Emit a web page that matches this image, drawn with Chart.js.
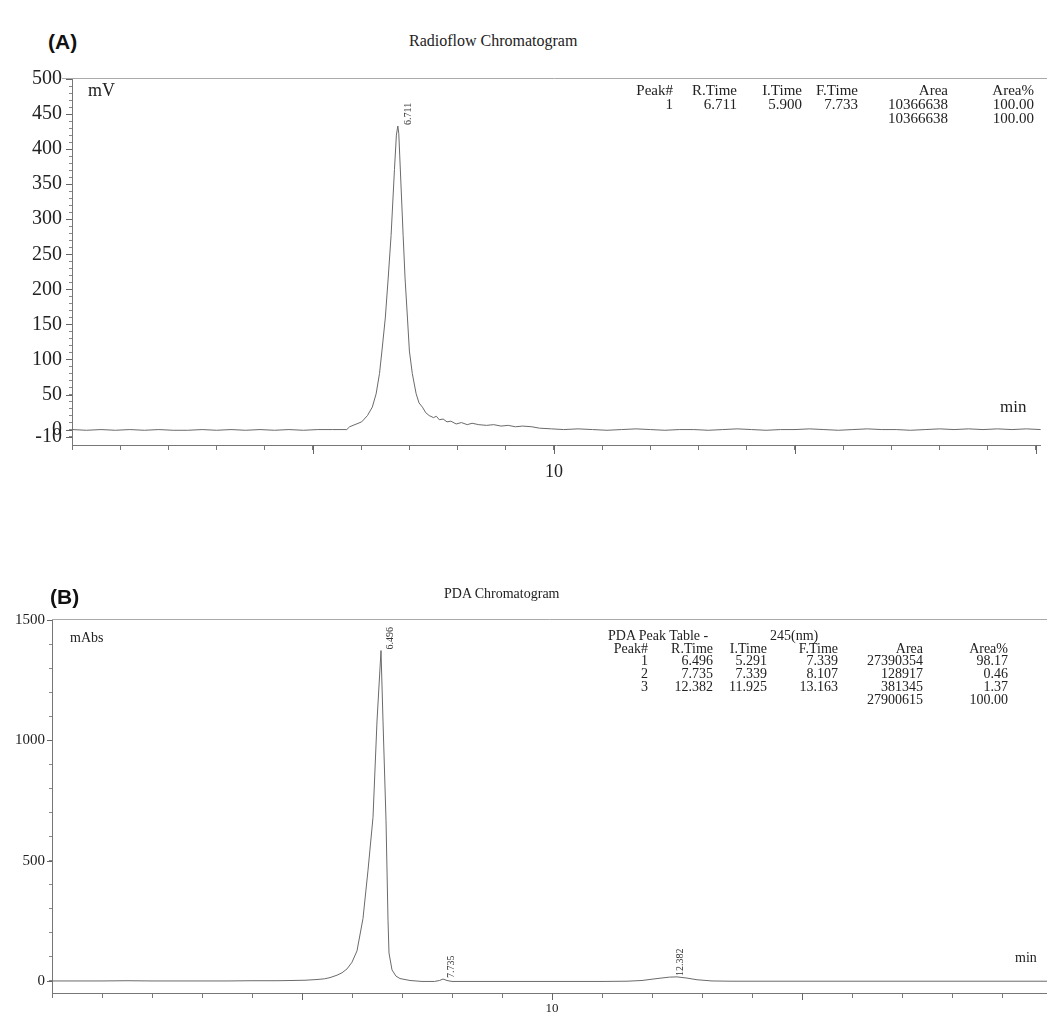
<!DOCTYPE html>
<html>
<head>
<meta charset="utf-8">
<script src="https://cdn.jsdelivr.net/npm/chart.js@4.4.1/dist/chart.umd.min.js"></script>
<style>
  body { margin:0; background:#fff; width:1047px; height:1017px; position:relative; overflow:hidden;
         font-family:"Liberation Serif", "Times New Roman", serif; color:#222; }
  canvas { position:absolute; left:0; }
  .t { position:absolute; white-space:nowrap; }
  .lab { font-family:"Liberation Sans", Arial, sans-serif; font-weight:bold; font-size:21px; color:#111; }
</style>
</head>
<body>
<canvas id="chromA" width="1047" height="425" style="top:60px"></canvas>
<canvas id="chromB" width="1047" height="417" style="top:600px"></canvas>

<div class="t lab" style="left:48px;top:30px">(A)</div>
<div class="t" style="left:409px;top:32px;font-size:16px">Radioflow Chromatogram</div>
<div class="t" style="left:88px;top:80px;font-size:18px">mV</div>
<div class="t" style="left:1000px;top:397px;font-size:17px">min</div>

<div class="t lab" style="left:50px;top:585px">(B)</div>
<div class="t" style="left:444px;top:586px;font-size:14px">PDA Chromatogram</div>
<div class="t" style="left:70px;top:630px;font-size:14px">mAbs</div>
<div class="t" style="left:1015px;top:950px;font-size:14px">min</div>

<div id="tables"></div>

<script>
// --- Radioflow (A) : temps (min) / signal (mV)
const timeA = [0, 0.3, 0.6, 0.9, 1.2, 1.5, 1.8, 2.1, 2.4, 2.7, 3.0, 3.3, 3.6, 3.9, 4.2, 4.5, 4.8, 5.1, 5.4, 5.7,
  5.76, 6.01, 6.13, 6.23, 6.31, 6.38, 6.43, 6.50, 6.56, 6.62, 6.69, 6.73, 6.76, 6.78, 6.80, 6.87, 6.91, 6.96, 7.00, 7.06, 7.14,
  7.20, 7.27, 7.34, 7.41, 7.50, 7.56, 7.62, 7.70, 7.78, 7.86, 7.97, 8.08, 8.2, 8.3, 8.44, 8.6, 8.75, 8.9, 9.05,
  9.2, 9.35, 9.54, 9.7, 9.95, 10.2, 10.5, 10.8, 11.1, 11.4, 11.7, 12.0, 12.3, 12.6, 12.9, 13.2, 13.5, 13.8, 14.1,
  14.4, 14.7, 15.0, 15.3, 15.6, 15.9, 16.2, 16.5, 16.8, 17.1, 17.4, 17.7, 18.0, 18.3, 18.6, 18.9, 19.2, 19.5, 19.8, 20.1];
const signalA = [0, -1, 0, -1, 0, -1, 0, -1, -1, 0, -1, 0, -1, 0, -1, 0, -1, 0, 0, 0,
  4, 11, 20, 32, 51, 80, 112, 159, 216, 277, 371, 420, 433, 422, 390, 277, 216, 159, 112, 80, 51,
  38, 32, 24, 20, 17, 19, 14, 15, 11, 12, 8, 10, 7, 9, 7, 6, 7, 5, 6,
  4, 5, 4, 2, 1, 0, 1, 0, -1, 0, 1, 0, -1, 0, 0, -1, 0, 1, 0,
  -1, 0, 0, 1, 0, -1, 0, 1, 0, 0, -1, 0, 1, 0, 1, 0, 1, 0, 1, 0];

// --- PDA (B) : temps (min) / absorbance (mAbs)
const timeB = [0, 0.5, 1, 1.5, 2, 2.5, 3, 3.5, 4, 4.5, 4.8, 5.06, 5.3, 5.45, 5.56, 5.7, 5.8, 5.9, 6.0, 6.1,
  6.22, 6.32, 6.42, 6.50, 6.58, 6.62, 6.68, 6.72, 6.74, 6.80, 6.88, 6.96, 7.16, 7.4, 7.65, 7.75, 7.82, 7.9,
  8.0, 8.5, 9, 9.5, 10, 10.5, 11, 11.5, 11.8, 12.1, 12.35, 12.5, 12.7, 12.9, 13.2, 13.6, 14, 15, 16, 17, 18, 19, 19.9];
const signalB = [0, 0, 0, 1, 0, 0, 0, 0, 1, 1, 2, 3, 6, 9, 14, 24, 34, 50, 78, 125,
  260, 460, 680, 1080, 1373, 1080, 668, 253, 116, 46, 20, 10, 2, -2, -2, 2, 8, 2,
  -2, -2, -2, -2, -2, -2, -2, -1, 2, 10, 16, 17, 12, 5, 0, -1, -1, -1, -1, -1, -1, -1, -1];

// étiquettes des pics
const peakTextA = ['6.711'];
const peakTimeA = [6.76];
const peakValA = [433];
const peakTextB = ['6.496', '7.735', '12.382'];
const peakTimeB = [6.58, 7.82, 12.5];
const peakValB = [1373, 8, 17];

// graduations
const yLabelsA = [-10, 0, 50, 100, 150, 200, 250, 300, 350, 400, 450, 500];
const yLabelsB = [0, 500, 1000, 1500];
const xLabels = [10];

// tableaux des pics
const headA = ['Peak#', 'R.Time', 'I.Time', 'F.Time', 'Area', 'Area%'];
const rowsA = [
  ['1', '6.711', '5.900', '7.733', '10366638', '100.00'],
  ['', '', '', '', '10366638', '100.00']
];
const headB = ['Peak#', 'R.Time', 'I.Time', 'F.Time', 'Area', 'Area%'];
const rowsB = [
  ['1', '6.496', '5.291', '7.339', '27390354', '98.17'],
  ['2', '7.735', '7.339', '8.107', '128917', '0.46'],
  ['3', '12.382', '11.925', '13.163', '381345', '1.37'],
  ['', '', '', '', '27900615', '100.00']
];

function putTable(head, rows, colRight, rowY, size) {
  var box = document.getElementById('tables');
  [head].concat(rows).forEach(function(r, i) {
    r.forEach(function(txt, j) {
      if (!txt) return;
      var d = document.createElement('div');
      d.className = 't';
      d.textContent = txt;
      d.style.fontSize = size + 'px';
      d.style.lineHeight = size + 'px';
      d.style.right = (1047 - colRight[j]) + 'px';
      d.style.top = (rowY[i] - size / 2) + 'px';
      box.appendChild(d);
    });
  });
}
putTable(headA, rowsA, [673, 737, 802, 858, 948, 1034], [90, 104, 118], 15);
putTable(headB, rowsB, [648, 713, 767, 838, 923, 1008], [649, 661, 674, 687, 700], 14);

var pda = document.createElement('div');
pda.className = 't'; pda.style.cssText = 'left:608px;top:628px;font-size:14px';
pda.textContent = 'PDA Peak Table -';
document.getElementById('tables').appendChild(pda);
var nm = document.createElement('div');
nm.className = 't'; nm.style.cssText = 'left:770px;top:628px;font-size:14px';
nm.textContent = '245(nm)';
document.getElementById('tables').appendChild(nm);

// plugin : cadre du haut, grandes graduations, étiquettes des pics
const decoPlugin = {
  id: 'deco',
  afterDraw(chart, args, opts) {
    const ctx = chart.ctx, xs = chart.scales.x, ys = chart.scales.y, area = chart.chartArea;
    ctx.save();
    ctx.lineWidth = 1;
    ctx.strokeStyle = '#aaa';
    ctx.beginPath();
    ctx.moveTo(opts.topFrom, Math.round(area.top) - 0.5);
    ctx.lineTo(chart.width, Math.round(area.top) - 0.5);
    ctx.stroke();
    ctx.strokeStyle = '#666';
    ctx.beginPath();
    opts.majorX.forEach(function(v) {
      var px = Math.round(xs.getPixelForValue(v)) + 0.5;
      ctx.moveTo(px, area.bottom); ctx.lineTo(px, area.bottom + opts.majorLen);
    });
    opts.majorY.forEach(function(v) {
      var py = Math.round(ys.getPixelForValue(v)) + 0.5;
      ctx.moveTo(area.left - opts.majorLenY, py); ctx.lineTo(area.left, py);
    });
    ctx.stroke();
    ctx.fillStyle = '#333';
    ctx.font = opts.peakFont + 'px "Liberation Serif"';
    ctx.textAlign = 'left';
    ctx.textBaseline = 'middle';
    opts.text.forEach(function(txt, i) {
      var px = xs.getPixelForValue(opts.xv[i]) + opts.dx[i];
      var py = ys.getPixelForValue(opts.yv[i]) - 1;
      ctx.save(); ctx.translate(px, py); ctx.rotate(-Math.PI / 2); ctx.fillText(txt, 0, 0); ctx.restore();
    });
    ctx.restore();
  }
};

function makeChart(id, times, values, s) {
  var pts = times.map(function(t, i) { return {x: t, y: values[i]}; });
  var ctx = document.getElementById(id).getContext('2d');
  return new Chart(ctx, {
    type: 'line',
    data: { datasets: [{ data: pts, borderColor: '#6a6a6a', borderWidth: 1, pointRadius: 0, tension: 0, fill: false }] },
    options: {
      responsive: false,
      animation: false,
      layout: { padding: { top: s.padTop, right: s.padRight, left: 0, bottom: 0 } },
      plugins: { legend: { display: false }, tooltip: { enabled: false }, deco: s.deco },
      scales: {
        x: {
          type: 'linear', min: 0, max: s.xMax,
          afterBuildTicks: function(sc) { var tk = []; for (var i = 0; i <= Math.floor(s.xMax); i++) tk.push({value: i}); sc.ticks = tk; },
          afterFit: function(sc) { sc.height = s.xH; },
          grid: { drawOnChartArea: false, tickLength: 5, tickColor: '#777' },
          border: { display: true, color: '#777' },
          ticks: { autoSkip: false, maxRotation: 0, padding: s.xPad, color: '#222',
                   font: { family: 'Liberation Serif', size: s.xFont },
                   callback: function(v) { return xLabels.indexOf(v) >= 0 ? String(v) : ''; } }
        },
        y: {
          min: s.yMin, max: s.yMax,
          afterBuildTicks: function(sc) { sc.ticks = s.yTicks.map(function(v) { return {value: v}; }); },
          afterFit: function(sc) { sc.width = s.yW; },
          grid: { drawOnChartArea: false, tickLength: 3, tickColor: '#888' },
          border: { display: true, color: '#777' },
          ticks: { autoSkip: false, padding: s.yPad, color: '#222',
                   font: { family: 'Liberation Serif', size: s.yFont },
                   callback: function(v) { return s.yLabels.indexOf(v) >= 0 ? String(v) : ''; } }
        }
      }
    },
    plugins: [decoPlugin]
  });
}

var ticksA = [-10];
for (var v = 0; v <= 500; v += 10) ticksA.push(v);
var ticksB = [];
for (var w = 0; w <= 1500; w += 100) ticksB.push(w);

makeChart('chromA', timeA, signalA, {
  padTop: 14, padRight: 2, xMax: 20.1, xH: 40, xPad: 11, xFont: 18,
  yMin: -22, yMax: 500, yW: 72, yPad: 7, yFont: 20, yTicks: ticksA, yLabels: yLabelsA,
  deco: { topFrom: 62, majorLen: 9, majorLenY: 6, majorX: [5, 10, 15, 20], majorY: yLabelsA,
          text: peakTextA, xv: peakTimeA, yv: peakValA, dx: [11], peakFont: 10 }
});

makeChart('chromB', timeB, signalB, {
  padTop: 20, padRight: 0, xMax: 19.9, xH: 24, xPad: 3, xFont: 13,
  yMin: -50, yMax: 1500, yW: 52, yPad: 4, yFont: 15, yTicks: ticksB, yLabels: yLabelsB,
  deco: { topFrom: 52, majorLen: 7, majorLenY: 5, majorX: [5, 10, 15], majorY: yLabelsB,
          text: peakTextB, xv: peakTimeB, yv: peakValB, dx: [9, 8, 3], peakFont: 10 }
});
</script>
</body>
</html>
